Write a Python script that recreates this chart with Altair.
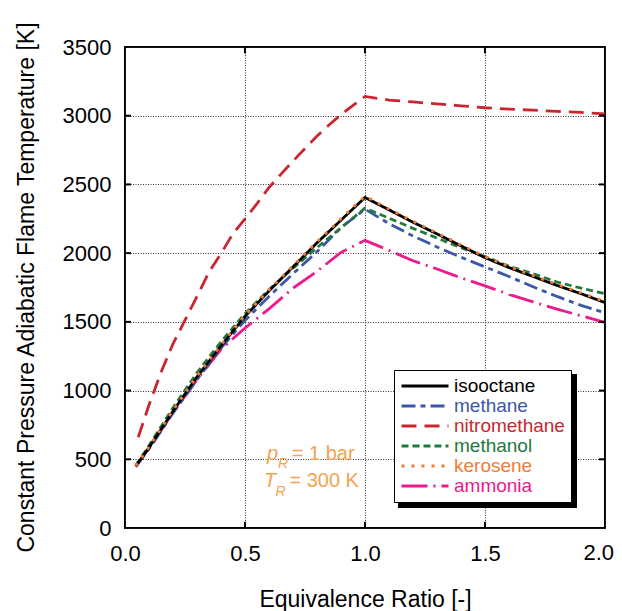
import altair as alt
import pandas as pd

# ---------------- data ----------------
series_names = ["isooctane", "methane", "nitromethane", "methanol", "kerosene", "ammonia"]
series_colors = ["#000000", "#3d56a8", "#cb2630", "#217a3c", "#f47c30", "#ec1a8d"]
series_dashes = [[1, 0], [14, 5, 5, 5], [15, 8], [7, 4], [3, 7], [26, 6, 2, 6]]
draw_order = ["ammonia", "methane", "methanol", "isooctane", "kerosene", "nitromethane"]

phi_fuel = [0.045, 0.1, 0.2, 0.3, 0.4, 0.5, 0.6, 0.7, 0.8, 0.9, 1.0,
            1.1, 1.2, 1.3, 1.4, 1.5, 1.6, 1.7, 1.8, 1.9, 2.0]
T_isooctane = [450, 585, 850, 1100, 1325, 1540, 1725, 1900, 2075, 2240, 2405,
               2315, 2225, 2140, 2053, 1967, 1895, 1830, 1765, 1705, 1640]
T_kerosene = [452, 590, 856, 1106, 1332, 1548, 1733, 1908, 2083, 2250, 2415,
              2322, 2232, 2147, 2060, 1975, 1902, 1837, 1772, 1712, 1648]
T_methanol = [455, 600, 875, 1130, 1355, 1560, 1735, 1890, 2040, 2185, 2327,
              2255, 2180, 2110, 2040, 1975, 1905, 1850, 1790, 1745, 1705]
T_methane = [450, 575, 835, 1080, 1310, 1510, 1685, 1850, 2010, 2185, 2320,
             2215, 2125, 2045, 1970, 1900, 1830, 1755, 1685, 1620, 1565]
T_ammonia = [445, 580, 840, 1080, 1300, 1455, 1595, 1745, 1868, 2005, 2093,
             2020, 1945, 1885, 1820, 1762, 1700, 1645, 1592, 1545, 1495]

phi_nitro = [0.055, 0.1, 0.15, 0.2, 0.25, 0.3, 0.35, 0.4, 0.45, 0.5, 0.55, 0.6,
             0.65, 0.7, 0.75, 0.8, 0.85, 0.9, 0.95, 1.0,
             1.1, 1.2, 1.3, 1.4, 1.5, 1.6, 1.7, 1.8, 1.9, 2.0]
T_nitromethane = [660, 895, 1133, 1340, 1512, 1685, 1862, 1997, 2142, 2250, 2360, 2478,
                  2575, 2670, 2762, 2852, 2932, 3008, 3075, 3140,
                  3114, 3100, 3086, 3072, 3058, 3048, 3040, 3032, 3024, 3014]

x_ticks = [0.0, 0.5, 1.0, 1.5, 2.0]
y_ticks = [0, 500, 1000, 1500, 2000, 2500, 3000, 3500]
x_inner_ticks = [0.5, 1.0, 1.5]
y_inner_ticks = [500, 1000, 1500, 2000, 2500, 3000]
x_last_label = 2.0

curves = {
    "isooctane": (phi_fuel, T_isooctane),
    "kerosene": (phi_fuel, T_kerosene),
    "methanol": (phi_fuel, T_methanol),
    "methane": (phi_fuel, T_methane),
    "ammonia": (phi_fuel, T_ammonia),
    "nitromethane": (phi_nitro, T_nitromethane),
}

rows = []
for name in draw_order:
    xs, ys = curves[name]
    for p, t in zip(xs, ys):
        rows.append({"fuel": name, "phi": p, "T": t})
df = pd.DataFrame(rows)

FONT = "Liberation Sans"
ANNOT = "#f5a251"

legend = alt.Legend(
    title=None, orient="none", legendX=269, legendY=323,
    symbolType="stroke", symbolSize=2209, symbolStrokeWidth=2.8,
    clipHeight=20, rowPadding=0,
    labelFont=FONT, labelFontSize=19, labelOffset=4,
    labelColor=alt.ExprRef(expr="scale('color', datum.value)"),
    padding=6, fillColor="white", strokeColor="black",
)

x_enc = alt.X("phi:Q", scale=alt.Scale(domain=[0, 2], nice=False),
              axis=alt.Axis(values=x_ticks, format=".1f", title="Equivalence Ratio [-]",
                            labelPadding=15, labelFlush=False,
                            labelExpr="datum.value >= 2 ? '' : datum.label",
                            titleX=240, titleY=78, titleBaseline="alphabetic"))
y_enc = alt.Y("T:Q", scale=alt.Scale(domain=[0, 3500], nice=False),
              axis=alt.Axis(values=y_ticks, format="d",
                            title="Constant Pressure Adiabatic Flame Temperature [K]",
                            labelPadding=14, labelFlush=False, titleAngle=270, titleX=-92,
                            titleY=240, titleAlign="center", titleBaseline="alphabetic"))

lines = alt.Chart(df).mark_line(strokeWidth=2.8, strokeCap="butt", clip=True).encode(
    x=x_enc,
    y=y_enc,
    color=alt.Color("fuel:N", scale=alt.Scale(domain=series_names, range=series_colors),
                    legend=legend),
    strokeDash=alt.StrokeDash("fuel:N", scale=alt.Scale(domain=series_names, range=series_dashes),
                              legend=legend),
)

# last x tick label, kept inside the page edge
last_label = alt.Chart(pd.DataFrame({"a": [0]})).mark_text(
    text=f"{x_last_label:.1f}", font=FONT, fontSize=22, color="black",
    align="right", baseline="top", dx=9, dy=15
).encode(x=alt.datum(x_last_label), y=alt.datum(0))

# legend drop shadow
shadow = alt.Chart(pd.DataFrame({"a": [0]})).mark_rect(color="black").encode(
    x=alt.value(273), x2=alt.value(452), y=alt.value(327), y2=alt.value(461)
)

# inward ticks on all four sides
xt = pd.DataFrame({"v": x_inner_ticks})
yt = pd.DataFrame({"v": y_inner_ticks})
tick_bottom = alt.Chart(xt).mark_rule(color="black", strokeWidth=2).encode(
    x="v:Q", y=alt.datum(0), y2=alt.datum(45))
tick_top = alt.Chart(xt).mark_rule(color="black", strokeWidth=2).encode(
    x="v:Q", y=alt.datum(3500), y2=alt.datum(3455))
tick_left = alt.Chart(yt).mark_rule(color="black", strokeWidth=2).encode(
    y="v:Q", x=alt.datum(0), x2=alt.datum(0.025))
tick_right = alt.Chart(yt).mark_rule(color="black", strokeWidth=2).encode(
    y="v:Q", x=alt.datum(2.0), x2=alt.datum(1.975))

# condition annotation
def txt(s, x, y, size, italic=False):
    return alt.Chart(pd.DataFrame({"a": [0]})).mark_text(
        text=s, font=FONT, fontSize=size, color=ANNOT, align="left",
        baseline="alphabetic", fontStyle="italic" if italic else "normal"
    ).encode(x=alt.datum(x), y=alt.datum(y))

annots = [
    txt("p", 0.592, 495, 20, True),
    txt("R", 0.637, 436, 14, True),
    txt("= 1 bar", 0.695, 495, 20),
    txt("T", 0.579, 295, 20, True),
    txt("R", 0.627, 233, 14, True),
    txt("= 300 K", 0.685, 295, 20),
]

chart = alt.layer(
    shadow, lines, tick_bottom, tick_top, tick_left, tick_right, last_label, *annots
).properties(
    width=480, height=481,
    autosize=alt.AutoSizeParams(type="none"),
    padding={"left": 117, "top": 39, "right": 9, "bottom": 95},
    background="white",
).configure_view(
    stroke="black", strokeWidth=2
).configure_axis(
    domain=False, ticks=False, grid=True, gridColor="#333", gridDash=[1, 1.5],
    gridWidth=1, gridOpacity=1,
    labelFont=FONT, labelFontSize=22, labelColor="black",
    titleFont=FONT, titleFontSize=23, titleFontWeight="normal", titleColor="black",
)

chart.save("out.html", embed_options={"renderer": "svg", "actions": False})
